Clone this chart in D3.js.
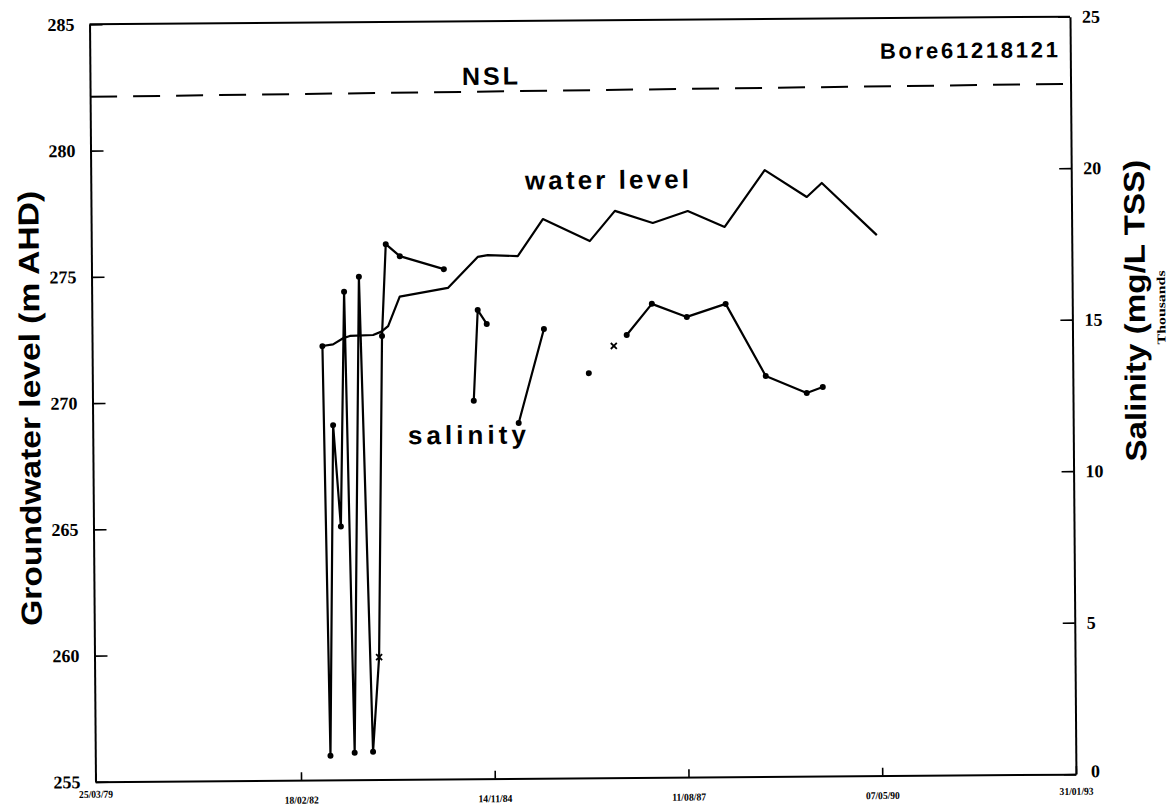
<!DOCTYPE html>
<html>
<head>
<meta charset="utf-8">
<script src="https://cdn.jsdelivr.net/npm/d3@7"></script>
<style>
  body { margin: 0; background: #fff; }
  svg { display: block; }
</style>
</head>
<body>
<svg id="chart" width="1173" height="807"></svg>
<script>
// Bore 61218121 monitoring record: groundwater level (m AHD) and salinity (mg/L TSS, thousands)

const waterDates = ["1982-06-26","1982-08-20","1982-10-11","1982-11-15","1983-03-15","1983-04-27",
  "1983-06-01","1983-08-01","1984-04-06","1984-09-08","1984-10-30","1985-04-03","1985-08-12",
  "1986-04-10","1986-08-19","1987-03-02","1987-08-30","1988-03-07","1988-10-02","1989-05-06",
  "1989-07-23","1990-05-01"];
const waterLevel = [272.19,272.25,272.49,272.58,272.61,272.74,272.96,274.12,274.45,275.67,275.74,
  275.69,277.15,276.26,277.45,276.96,277.42,276.78,279.02,277.94,278.49,276.41];

// null = no salinity sample, the line breaks there
const salinityDates = ["1982-06-26","1982-07-21","1982-08-17","1982-09-22","1982-10-18","1982-11-23",
  "1983-01-03","1983-02-26","1983-04-02","1983-04-30","1983-05-23","1983-08-03","1984-03-17",
  "1984-06-01","1984-08-13","1984-09-06","1984-10-22","1985-01-15","1985-04-01","1985-08-13",
  "1985-12-01","1986-03-31","1986-06-01","1986-08-08","1986-09-15","1986-10-14","1987-02-22",
  "1987-08-21","1988-03-09","1988-09-29","1989-04-28","1989-07-20"];
const salinity = [14.32,0.80,11.71,8.36,16.11,0.89,16.60,0.92,4.04,14.64,17.67,17.27,16.83,
  null,12.48,15.47,15.01,null,11.73,14.83,null,13.36,null,14.25,null,14.61,15.63,15.19,15.61,
  13.22,12.65,12.84];
const salinityMarker = ["dot","dot","dot","dot","dot","dot","dot","dot","cross","dot","dot","dot","dot",
  "","dot","dot","dot","","dot","dot","","dot","","cross","","dot","dot","dot","dot",
  "dot","dot","dot"];

// natural surface level
const nslDates = ["1979-03-25","1993-01-31"];
const nslLevel = [282.13, 282.34];

const xTickDates = ["1979-03-25","1982-02-18","1984-11-14","1987-08-11","1990-05-07","1993-01-31"];
const levelTicks = [255,260,265,270,275,280,285];
const salinityTicks = [0,5,10,15,20,25];

const parse = d3.timeParse("%Y-%m-%d");
const svg = d3.select("#chart");
const root = svg.append("g").attr("transform", "rotate(-0.45, 582, 400)");

const L = 92.5, R = 1073, T = 20.5, B = 778;

const x = d3.scaleTime()
  .domain([parse(xTickDates[0]), parse(xTickDates[xTickDates.length - 1])])
  .range([L, R]);
const yL = d3.scaleLinear().domain([255, 285]).range([B, T]);
const yR = d3.scaleLinear().domain([0, 25]).range([B, T]);

const sans = "'Liberation Sans', Arial, Helvetica, sans-serif";
const serif = "'Liberation Serif', 'Times New Roman', serif";

// top border
root.append("line")
  .attr("x1", L).attr("x2", R).attr("y1", T).attr("y2", T)
  .attr("stroke", "#000").attr("stroke-width", 2);

// bottom (date) axis
const nX = xTickDates.length;
const xAxis = root.append("g")
  .attr("transform", `translate(0,${B})`)
  .call(d3.axisBottom(x)
    .tickValues(xTickDates.map(parse))
    .tickFormat(d3.timeFormat("%d/%m/%y"))
    .tickSizeInner(-8).tickSizeOuter(0).tickPadding(16));
xAxis.selectAll("text")
  .attr("font-family", serif).attr("font-weight", "bold").attr("font-size", 10.5)
  .attr("textLength", 34).attr("lengthAdjust", "spacingAndGlyphs")
  .attr("dy", (d, i) => i === 0 ? "0em" : (i === nX - 1 ? "0.45em" : "0.71em"));

// left (water level) axis
const lAxis = root.append("g")
  .attr("transform", `translate(${L},0)`)
  .call(d3.axisLeft(yL).tickValues(levelTicks).tickFormat(d3.format("d"))
    .tickSizeInner(-13).tickSizeOuter(0).tickPadding(15));
lAxis.selectAll("text")
  .attr("font-family", serif).attr("font-weight", "bold").attr("font-size", 18);

// right (salinity) axis
const rAxis = root.append("g")
  .attr("transform", `translate(${R},0)`)
  .call(d3.axisRight(yR).tickValues(salinityTicks).tickFormat(d3.format("d"))
    .tickSizeInner(-12).tickSizeOuter(0).tickPadding(12));
rAxis.selectAll("text")
  .attr("font-family", serif).attr("font-weight", "bold").attr("font-size", 18)
  .attr("dx", d => d === 0 ? 3 : 0)
  .attr("dy", d => d === 0 ? "0.15em" : "0.32em");

root.selectAll(".domain").attr("stroke", "#000").attr("stroke-width", 2);
root.selectAll(".tick line").attr("stroke", "#000").attr("stroke-width", 1.6);
root.selectAll(".tick text").attr("fill", "#000");

// NSL dashed line
const nsl = nslDates.map((d, i) => ({ date: parse(d), v: nslLevel[i] }));
root.append("path")
  .datum(nsl)
  .attr("fill", "none").attr("stroke", "#000").attr("stroke-width", 2)
  .attr("stroke-dasharray", "27,16")
  .attr("d", d3.line().x(d => x(d.date)).y(d => yL(d.v)));

// water level
const water = waterDates.map((d, i) => ({ date: parse(d), v: waterLevel[i] }));
root.append("path")
  .datum(water)
  .attr("fill", "none").attr("stroke", "#000").attr("stroke-width", 2.2)
  .attr("stroke-linejoin", "round")
  .attr("d", d3.line().x(d => x(d.date)).y(d => yL(d.v)));

// salinity
const sal = salinityDates.map((d, i) => ({ date: parse(d), v: salinity[i], m: salinityMarker[i] }));
root.append("path")
  .datum(sal)
  .attr("fill", "none").attr("stroke", "#000").attr("stroke-width", 2.2)
  .attr("stroke-linejoin", "round")
  .attr("d", d3.line().defined(d => d.v !== null).x(d => x(d.date)).y(d => yR(d.v)));

const pts = sal.filter(d => d.v !== null);
root.selectAll("circle.sal")
  .data(pts.filter(d => d.m === "dot"))
  .join("circle")
  .attr("class", "sal")
  .attr("cx", d => x(d.date)).attr("cy", d => yR(d.v)).attr("r", 3)
  .attr("fill", "#000");
root.selectAll("path.cross")
  .data(pts.filter(d => d.m === "cross"))
  .join("path")
  .attr("class", "cross")
  .attr("transform", d => `translate(${x(d.date)},${yR(d.v)})`)
  .attr("d", "M-3,-3L3,3M-3,3L3,-3")
  .attr("stroke", "#000").attr("stroke-width", 1.8);

// annotations
root.append("text")
  .attr("x", 1060.7).attr("y", 61).attr("text-anchor", "end")
  .attr("font-family", sans).attr("font-weight", "bold").attr("font-size", 22)
  .attr("textLength", 178).attr("lengthAdjust", "spacing")
  .text("Bore61218121");

root.append("text")
  .attr("x", 464.5).attr("y", 84).attr("text-anchor", "start")
  .attr("font-family", sans).attr("font-weight", "bold").attr("font-size", 25)
  .attr("textLength", 56).attr("lengthAdjust", "spacing")
  .text("NSL");

root.append("text")
  .attr("x", 608.7).attr("y", 189).attr("text-anchor", "middle")
  .attr("font-family", sans).attr("font-weight", "bold").attr("font-size", 26)
  .attr("textLength", 164).attr("lengthAdjust", "spacing")
  .text("water level");

root.append("text")
  .attr("x", 466.7).attr("y", 443).attr("text-anchor", "middle")
  .attr("font-family", sans).attr("font-weight", "bold").attr("font-size", 26)
  .attr("textLength", 118).attr("lengthAdjust", "spacing")
  .text("salinity");

// axis titles
root.append("text")
  .attr("transform", "translate(30,404) rotate(-90)")
  .attr("text-anchor", "middle").attr("dominant-baseline", "central")
  .attr("font-family", sans).attr("font-weight", "bold").attr("font-size", 29)
  .attr("textLength", 435).attr("lengthAdjust", "spacingAndGlyphs")
  .text("Groundwater level (m AHD)");

root.append("text")
  .attr("transform", "translate(1135.7,315) rotate(-90)")
  .attr("text-anchor", "middle").attr("dominant-baseline", "central")
  .attr("font-family", sans).attr("font-weight", "bold").attr("font-size", 29)
  .attr("textLength", 302).attr("lengthAdjust", "spacingAndGlyphs")
  .text("Salinity (mg/L TSS)");

root.append("text")
  .attr("transform", "translate(1162,312) rotate(-90)")
  .attr("text-anchor", "middle").attr("dominant-baseline", "central")
  .attr("font-family", serif).attr("font-weight", "bold").attr("font-size", 12)
  .attr("textLength", 74).attr("lengthAdjust", "spacingAndGlyphs")
  .text("Thousands");
</script>
</body>
</html>
